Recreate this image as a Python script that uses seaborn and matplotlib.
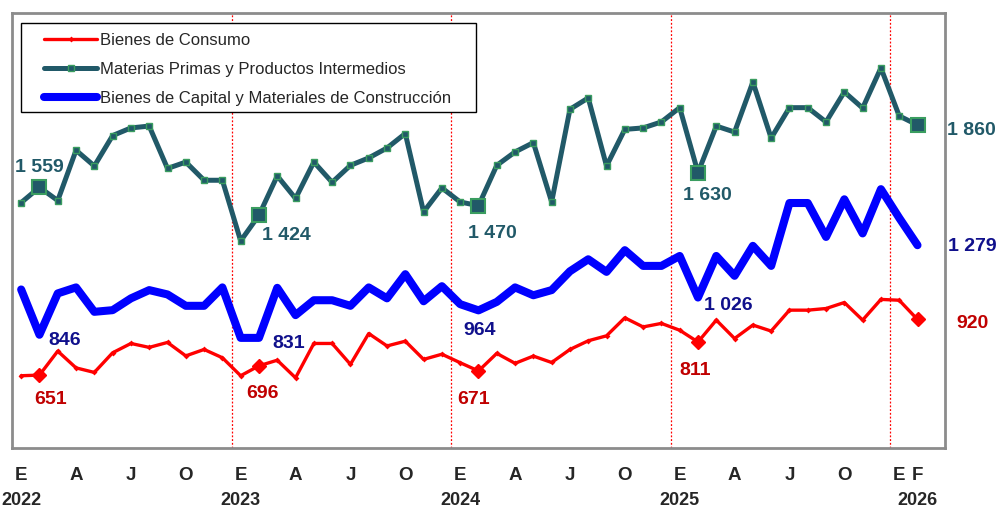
import matplotlib
matplotlib.use("Agg")
import matplotlib.pyplot as plt
from matplotlib import font_manager
from matplotlib.patches import Rectangle
import matplotlib.transforms as mtransforms
import seaborn as sns

# monthly index, Jan 2022 .. Feb 2026
months = list(range(50))

bienes_consumo = [648, 651, 767, 686, 664, 759, 804, 785, 809, 744, 775, 735,
                  648, 696, 723, 638, 804, 804, 703, 852, 792, 815, 727, 752,
                  711, 671, 756, 708, 743, 712, 775, 817, 841, 928, 884, 901,
                  868, 811, 917, 828, 893, 864, 965, 965, 973, 1002, 917, 1017,
                  1013, 920]
materias_primas = [1485, 1559, 1495, 1738, 1662, 1809, 1846, 1855, 1650, 1681, 1593, 1593,
                   1300, 1424, 1614, 1505, 1681, 1583, 1665, 1701, 1749, 1819, 1440, 1556,
                   1488, 1470, 1665, 1730, 1775, 1488, 1936, 1991, 1662, 1839, 1846, 1875,
                   1944, 1630, 1855, 1826, 2068, 1797, 1944, 1944, 1875, 2020, 1942, 2136,
                   1904, 1860]
bienes_capital = [1065, 846, 1046, 1075, 957, 965, 1022, 1062, 1041, 986, 986, 1075,
                  831, 831, 1073, 941, 1013, 1013, 986, 1075, 1022, 1139, 1008, 1081,
                  994, 964, 1005, 1075, 1037, 1062, 1153, 1211, 1150, 1255, 1179, 1179,
                  1227, 1026, 1227, 1131, 1276, 1179, 1483, 1483, 1319, 1501, 1336, 1550,
                  1411, 1279]

series_names = ["Bienes de Consumo",
                "Materias Primas y Productos Intermedios",
                "Bienes de Capital y Materiales de Construcción"]

highlight_idx = [1, 13, 25, 37, 49]
year_breaks = [11.5, 23.5, 35.5, 47.5]
years = ["2022", "2023", "2024", "2025", "2026"]
year_pos = [0, 12, 24, 36, 49]
month_letters = ["E", "A", "J", "O"]

TEAL = "#215968"
GREEN = "#3a9d60"
RED = "#ff0000"
BLUE = "#0000ff"

sns.set_style("white")
available = {f.name for f in font_manager.fontManager.ttflist}
narrow = "Liberation Sans Narrow" if "Liberation Sans Narrow" in available else "Liberation Sans"
plt.rcParams["font.family"] = ["Liberation Sans", "DejaVu Sans"]

fig = plt.figure(figsize=(10.01, 5.09), dpi=100)
ax = fig.add_axes([0.012, 0.1204, 0.932, 0.8534])

# year separators
for xb in year_breaks:
    ax.axvline(xb, color=RED, lw=0.9, ls=(0, (1.5, 1.5)), zorder=1)

sns.lineplot(x=months, y=bienes_consumo, ax=ax, color=RED, lw=2.4,
             marker="D", markersize=3, markeredgewidth=0, label=series_names[0], zorder=3)
sns.lineplot(x=months, y=materias_primas, ax=ax, color=TEAL, lw=3.6,
             marker="s", markersize=4, markerfacecolor=TEAL, markeredgecolor=GREEN,
             markeredgewidth=1, label=series_names[1], zorder=3)
sns.lineplot(x=months, y=bienes_capital, ax=ax, color=BLUE, lw=5.8,
             label=series_names[2], zorder=3)

# highlighted February points
hx = highlight_idx
ax.plot(hx, [materias_primas[i] for i in hx], ls="none", marker="s", markersize=9.5,
        markerfacecolor=TEAL, markeredgecolor=GREEN, markeredgewidth=1.5, zorder=4)
ax.plot(hx, [bienes_consumo[i] for i in hx], ls="none", marker="D", markersize=7.5,
        color=RED, zorder=4)

# value labels (offsets in points, baseline aligned)
lab_font = dict(fontsize=14, fontweight="bold", va="baseline")
teal_off = [(0, 11, "center"), (2, -18, "left"), (10, -23, "center"), (-11, -20, "left"), (21, -7, "left")]
blue_off = [(6.5, -7.5, "left"), (9.4, -7.3, "left"), (0.7, -17.5, "center"), (4.6, -9, "left"), (21.6, -4.5, "left")]
red_off = [(8.3, -21, "center"), (2.5, -23, "center"), (-3.6, -23.5, "center"), (-2.2, -24, "center"), (28, -6.2, "left")]
for (series, offs, col) in [(materias_primas, teal_off, TEAL),
                            (bienes_capital, blue_off, "#10108c"),
                            (bienes_consumo, red_off, "#c00000")]:
    for i, (dx, dy, ha) in zip(hx, offs):
        txt = f"{series[i]:,}".replace(",", " ")
        ax.annotate(txt, (i, series[i]), xytext=(dx, dy), textcoords="offset points",
                    ha=ha, color=col, **lab_font)

ax.set_xlim(-0.5, 50.5)
ax.set_ylim(300, 2400)
ax.set_yticks([])

# x axis: month letters, years written underneath
tick_pos, tick_lab = [], []
for k in range(4):
    for j, m in enumerate(month_letters):
        tick_pos.append(12 * k + 3 * j)
        tick_lab.append(m)
tick_pos += [48, 49]
tick_lab += ["E", "F"]
ax.set_xticks(tick_pos, tick_lab)
ax.set_xticks([-0.5 + 6 * k for k in range(1, 9)], minor=True)
ax.tick_params(axis="x", which="major", length=0, pad=14)
ax.tick_params(axis="x", which="minor", length=4, width=1, color="#333333", direction="out")
for t in ax.get_xticklabels():
    t.set_fontfamily(narrow)
    t.set_fontsize(13.5)
    t.set_fontweight("bold")

trans = mtransforms.blended_transform_factory(ax.transData, ax.transAxes)
for xp, yr in zip(year_pos, years):
    ax.text(xp, -0.122, yr, transform=trans, ha="center", va="center",
            fontsize=13, fontweight="bold", family=narrow)

for sp in ax.spines.values():
    sp.set_color("#8c8c8c")
    sp.set_linewidth(2)
    sp.set_visible(True)

# legend box drawn separately to match the wide side padding
box = Rectangle((0.00965, 0.7728), 0.4876, 0.2049, transform=ax.transAxes,
                facecolor="white", edgecolor="black", lw=1, zorder=5)
ax.add_patch(box)
leg = ax.legend(loc="upper left", bbox_to_anchor=(0.0343, 0.9544), borderaxespad=0,
                borderpad=0, frameon=False, handlelength=3.2, handletextpad=0.18,
                labelspacing=0.84, numpoints=1, prop={"family": narrow, "size": 12})
leg.set_zorder(6)

fig.savefig("out.png", dpi=100)
